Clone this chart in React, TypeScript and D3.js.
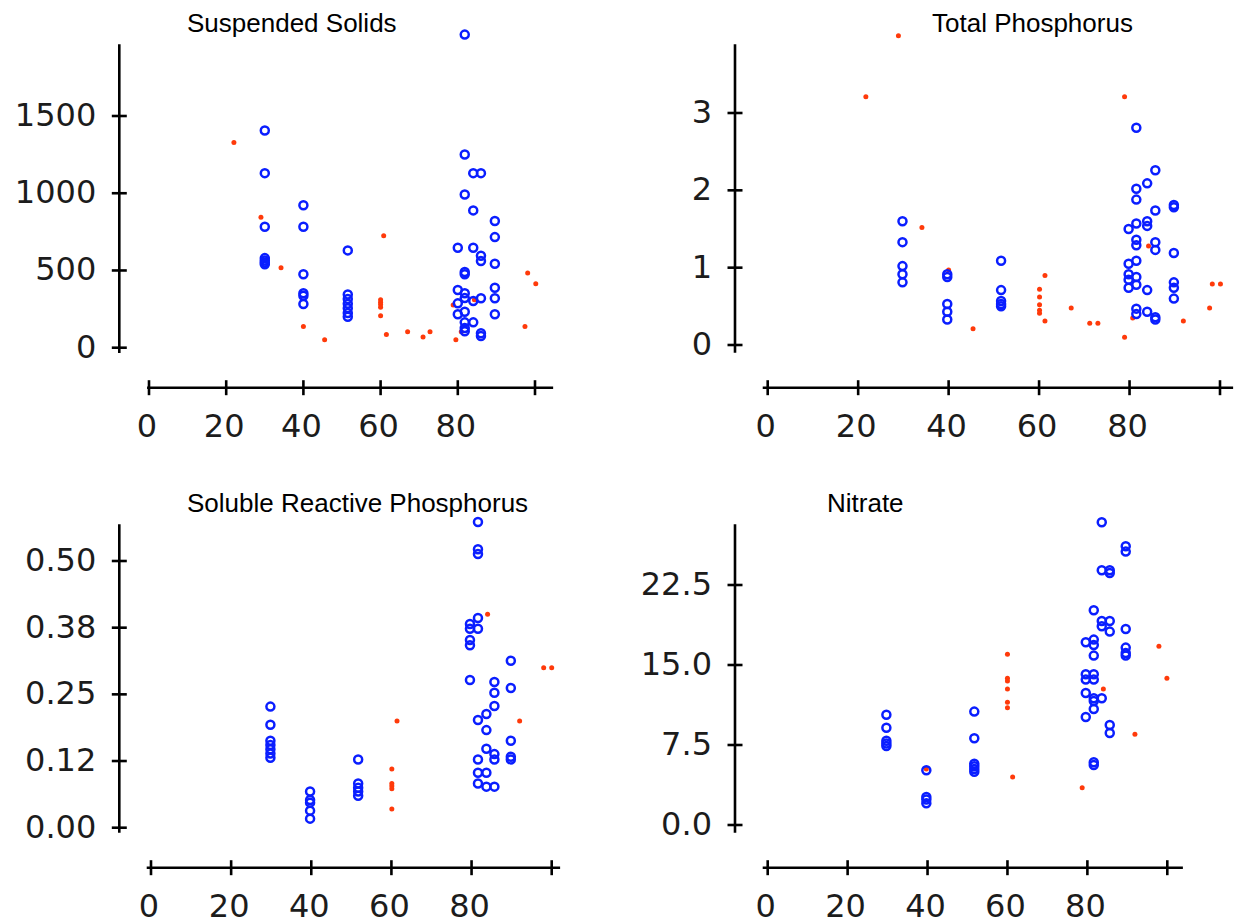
import React from "react";
import * as d3 from "d3";

type Pt = [number, number];

// Suspended Solids
const ssBlue: Pt[] = [
  [30, 1406], [30, 1130], [30, 783], [30, 580], [30, 565], [30, 552], [30, 540],
  [40, 922], [40, 783], [40, 475], [40, 352], [40, 336], [40, 283],
  [51.5, 630], [51.5, 345], [51.5, 315], [51.5, 285], [51.5, 255], [51.5, 225], [51.5, 200],
  [80, 647], [80, 373], [80, 287], [80, 216],
  [81.8, 2027], [81.8, 1251], [81.8, 992], [81.8, 490], [81.8, 475], [81.8, 352], [81.8, 321],
  [81.8, 233], [81.8, 164], [81.8, 127], [81.8, 107],
  [84, 1130], [84, 889], [84, 647], [84, 302], [84, 164],
  [86, 1130], [86, 595], [86, 561], [86, 320], [86, 93], [86, 76],
  [89.6, 820], [89.6, 716], [89.6, 543], [89.6, 388], [89.6, 320], [89.6, 216],
];
const ssRed: Pt[] = [
  [22, 1329], [29, 845], [34.2, 518], [40, 138], [45.5, 52], [60.8, 725],
  [60, 310], [60, 295], [60, 280], [60, 262], [60, 207], [61.5, 86],
  [67, 104], [71, 69], [72.8, 104], [78.8, 276], [79.5, 52], [80.9, 104],
  [84.3, 310], [97.4, 138], [98.1, 483], [100.2, 414],
];

// Total Phosphorus
const tpBlue: Pt[] = [
  [29.8, 1.6], [29.8, 1.33], [29.8, 1.02], [29.8, 0.915], [29.8, 0.81],
  [39.7, 0.915], [39.7, 0.88], [39.7, 0.53], [39.7, 0.43], [39.7, 0.33],
  [51.6, 1.09], [51.6, 0.71], [51.6, 0.57], [51.6, 0.53], [51.6, 0.5],
  [79.8, 1.5], [79.8, 1.05], [79.8, 0.915], [79.8, 0.845], [79.8, 0.74],
  [81.5, 2.81], [81.5, 2.02], [81.5, 1.88], [81.5, 1.57], [81.5, 1.36], [81.5, 1.29],
  [81.5, 1.09], [81.5, 0.88], [81.5, 0.78], [81.5, 0.47], [81.5, 0.4],
  [83.9, 2.09], [83.9, 1.6], [83.9, 1.54], [83.9, 0.71], [83.9, 0.43],
  [85.7, 2.26], [85.7, 1.74], [85.7, 1.33], [85.7, 1.23], [85.7, 0.36], [85.7, 0.33],
  [89.8, 1.81], [89.8, 1.78], [89.8, 1.19], [89.8, 0.81], [89.8, 0.74], [89.8, 0.6],
];
const tpRed: Pt[] = [
  [21.7, 3.21], [28.9, 4.0], [34.1, 1.52], [40, 0.97], [45.4, 0.21],
  [60.1, 0.72], [60.1, 0.62], [60.1, 0.52], [60.1, 0.45], [60.1, 0.41],
  [61.3, 0.9], [61.3, 0.31], [67.1, 0.48], [71.2, 0.28], [73.0, 0.28],
  [78.9, 3.21], [78.9, 0.1], [80.7, 0.35], [84.2, 1.28], [91.9, 0.31],
  [97.7, 0.48], [98.3, 0.79], [100.1, 0.79],
];

// Soluble Reactive Phosphorus
const srpBlue: Pt[] = [
  [29.8, 0.227], [29.8, 0.193], [29.8, 0.163], [29.8, 0.155], [29.8, 0.147], [29.8, 0.139], [29.8, 0.131],
  [39.7, 0.068], [39.7, 0.052], [39.7, 0.047], [39.7, 0.032], [39.7, 0.017],
  [51.7, 0.128], [51.7, 0.083], [51.7, 0.075], [51.7, 0.068], [51.7, 0.06],
  [79.6, 0.382], [79.6, 0.373], [79.6, 0.352], [79.6, 0.342], [79.6, 0.277],
  [81.6, 0.573], [81.6, 0.522], [81.6, 0.513], [81.6, 0.393], [81.6, 0.373],
  [81.6, 0.202], [81.6, 0.128], [81.6, 0.103], [81.6, 0.083],
  [83.7, 0.213], [83.7, 0.183], [83.7, 0.148], [83.7, 0.103], [83.7, 0.077],
  [85.7, 0.273], [85.7, 0.253], [85.7, 0.228], [85.7, 0.138], [85.7, 0.128], [85.7, 0.077],
  [89.8, 0.313], [89.8, 0.262], [89.8, 0.163], [89.8, 0.133], [89.8, 0.128],
];
const srpRed: Pt[] = [
  [60.1, 0.11], [60.1, 0.083], [60.1, 0.078], [60.1, 0.073], [60.1, 0.035],
  [61.4, 0.2], [84, 0.4], [92, 0.2], [98, 0.3], [100, 0.3],
];

// Nitrate
const no3Blue: Pt[] = [
  [29.7, 10.34], [29.7, 9.12], [29.7, 7.9], [29.7, 7.65], [29.7, 7.4],
  [39.7, 5.13], [39.7, 2.63], [39.7, 2.38], [39.7, 2.03],
  [51.7, 10.63], [51.7, 8.13], [51.7, 5.75], [51.7, 5.5], [51.7, 5.25], [51.7, 5.0],
  [79.6, 17.13], [79.6, 14.13], [79.6, 13.63], [79.6, 12.38], [79.6, 10.13],
  [81.6, 20.13], [81.6, 17.38], [81.6, 16.88], [81.6, 15.88], [81.6, 14.13], [81.6, 13.63],
  [81.6, 11.88], [81.6, 11.63], [81.6, 10.88], [81.6, 5.88], [81.6, 5.63],
  [83.6, 28.38], [83.6, 23.88], [83.6, 19.13], [83.6, 18.63], [83.6, 11.88],
  [85.6, 23.88], [85.6, 23.63], [85.6, 19.13], [85.6, 18.13], [85.6, 9.38], [85.6, 8.63],
  [89.6, 26.13], [89.6, 25.63], [89.6, 18.38], [89.6, 16.63], [89.6, 16.13], [89.6, 15.88],
];
const no3Red: Pt[] = [
  [39.7, 5.25], [60, 16.0], [60, 13.75], [60, 13.5], [60, 12.75], [60, 11.5], [60, 11.0],
  [61.3, 4.5], [78.7, 3.5], [84, 12.75], [91.9, 8.5], [97.9, 16.75], [99.9, 13.75],
];

const xTicks = [0, 20, 40, 60, 80, 100];
const xTickLabels = ["0", "20", "40", "60", "80", ""];

const ssTicks = [0, 500, 1000, 1500];
const ssLabels = ["0", "500", "1000", "1500"];
const tpTicks = [0, 1, 2, 3];
const tpLabels = ["0", "1", "2", "3"];
const srpTicks = [0, 0.125, 0.25, 0.375, 0.5];
const srpLabels = ["0.00", "0.12", "0.25", "0.38", "0.50"];
const no3Ticks = [0, 7.5, 15, 22.5];
const no3Labels = ["0.0", "7.5", "15.0", "22.5"];

const BLUE = "#0a1eff";
const RED = "#ff3a0a";

interface PanelProps {
  title: string;
  titleX: number;
  titleY: number;
  blue: Pt[];
  red: Pt[];
  xRange: [number, number];
  xExtent: [number, number];
  xAxisY: number;
  yTop: number; // pixel for last tick
  yBottom: number; // pixel for 0
  yMax: number; // last tick value
  yExtent: [number, number];
  yAxisX: number;
  yTicks: number[];
  yLabels: string[];
}

const Panel = (p: PanelProps) => {
  const x = d3.scaleLinear().domain([0, 100]).range(p.xRange);
  const y = d3.scaleLinear().domain([0, p.yMax]).range([p.yBottom, p.yTop]);
  const tickFont = "'DejaVu Sans', Verdana, sans-serif";
  return (
    <g>
      <text x={p.titleX} y={p.titleY} fontFamily="'Liberation Sans', Arial, sans-serif" fontSize={26} fill="#000">
        {p.title}
      </text>
      {/* y axis */}
      <line x1={p.yAxisX} x2={p.yAxisX} y1={y(p.yExtent[0])} y2={y(p.yExtent[1])} stroke="#000" strokeWidth={2.6} />
      {p.yTicks.map((t, i) => (
        <g key={"yt" + i}>
          <line x1={p.yAxisX - 7.5} x2={p.yAxisX + 7.5} y1={y(t)} y2={y(t)} stroke="#000" strokeWidth={2.6} />
          <text x={p.yAxisX - 23} y={y(t) + 10} textAnchor="end" fontFamily={tickFont} fontSize={32} fill="#1c1c1c">
            {p.yLabels[i]}
          </text>
        </g>
      ))}
      {/* x axis */}
      <line x1={x(p.xExtent[0])} x2={x(p.xExtent[1])} y1={p.xAxisY} y2={p.xAxisY} stroke="#000" strokeWidth={2.6} />
      {xTicks.map((t, i) => (
        <g key={"xt" + i}>
          <line x1={x(t)} x2={x(t)} y1={p.xAxisY - 7.5} y2={p.xAxisY + 7.5} stroke="#000" strokeWidth={2.6} />
          <text x={x(t) - 2} y={p.xAxisY + 49} textAnchor="middle" fontFamily={tickFont} fontSize={32} fill="#1c1c1c">
            {xTickLabels[i]}
          </text>
        </g>
      ))}
      {p.red.map((d, i) => (
        <circle key={"r" + i} cx={x(d[0])} cy={y(d[1])} r={2.5} fill={RED} />
      ))}
      {p.blue.map((d, i) => (
        <circle key={"b" + i} cx={x(d[0])} cy={y(d[1])} r={4} fill="none" stroke={BLUE} strokeWidth={2.5} />
      ))}
    </g>
  );
};

export default function App() {
  return (
    <svg
      width={1238}
      height={924}
      style={{ position: "absolute", left: 0, top: 0, background: "#fff" }}
    >
      <Panel
        title="Suspended Solids"
        titleX={187}
        titleY={32}
        blue={ssBlue}
        red={ssRed}
        xRange={[149, 535]}
        xExtent={[-0.5, 104.7]}
        xAxisY={387.7}
        yTop={116}
        yBottom={347.7}
        yMax={1500}
        yExtent={[-34, 1965]}
        yAxisX={119.3}
        yTicks={ssTicks}
        yLabels={ssLabels}
      />
      <Panel
        title="Total Phosphorus"
        titleX={932}
        titleY={32}
        blue={tpBlue}
        red={tpRed}
        xRange={[767.7, 1220]}
        xExtent={[-1.1, 102.9]}
        xAxisY={387.7}
        yTop={113}
        yBottom={345}
        yMax={3}
        yExtent={[-0.1, 3.89]}
        yAxisX={735}
        yTicks={tpTicks}
        yLabels={tpLabels}
      />
      <Panel
        title="Soluble Reactive Phosphorus"
        titleX={187}
        titleY={512}
        blue={srpBlue}
        red={srpRed}
        xRange={[151, 551.7]}
        xExtent={[-1.07, 102.1]}
        xAxisY={867.7}
        yTop={561}
        yBottom={827.7}
        yMax={0.5}
        yExtent={[-0.0094, 0.569]}
        yAxisX={119.3}
        yTicks={srpTicks}
        yLabels={srpLabels}
      />
      <Panel
        title="Nitrate"
        titleX={827}
        titleY={512}
        blue={no3Blue}
        red={no3Red}
        xRange={[767.7, 1167.3]}
        xExtent={[-1.25, 103.9]}
        xAxisY={867.7}
        yTop={585}
        yBottom={825}
        yMax={22.5}
        yExtent={[-0.72, 28.19]}
        yAxisX={735}
        yTicks={no3Ticks}
        yLabels={no3Labels}
      />
    </svg>
  );
}
